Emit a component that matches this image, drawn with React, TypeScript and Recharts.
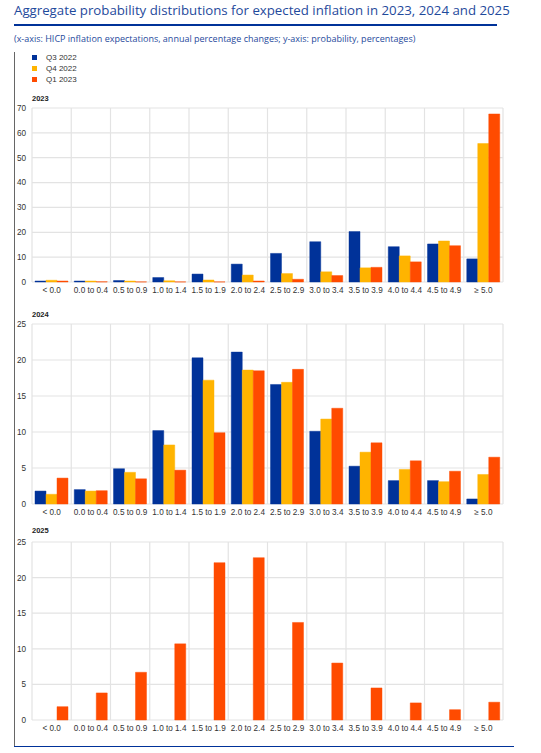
import React from 'react';
import { BarChart, Bar, XAxis, YAxis, CartesianGrid } from 'recharts';

const categories = ['< 0.0', '0.0 to 0.4', '0.5 to 0.9', '1.0 to 1.4', '1.5 to 1.9', '2.0 to 2.4', '2.5 to 2.9', '3.0 to 3.4', '3.5 to 3.9', '4.0 to 4.4', '4.5 to 4.9', '≥ 5.0'];
const seriesNames = ['Q3 2022', 'Q4 2022', 'Q1 2023'];
const seriesColors = ['#003299', '#FFB400', '#FF4B00'];

const q3_2022_for2023 = [0.4, 0.4, 0.6, 1.8, 3.2, 7.2, 11.5, 16.2, 20.3, 14.2, 15.3, 9.3];
const q4_2022_for2023 = [0.7, 0.4, 0.4, 0.5, 0.8, 2.8, 3.4, 4.1, 5.7, 10.5, 16.5, 55.7];
const q1_2023_for2023 = [0.4, 0.1, 0.05, 0.05, 0.05, 0.4, 1.1, 2.6, 5.9, 8.1, 14.6, 67.6];

const q3_2022_for2024 = [1.8, 2.0, 4.9, 10.2, 20.3, 21.1, 16.6, 10.1, 5.25, 3.25, 3.25, 0.7];
const q4_2022_for2024 = [1.35, 1.8, 4.4, 8.2, 17.2, 18.6, 16.9, 11.8, 7.2, 4.8, 3.1, 4.1];
const q1_2023_for2024 = [3.6, 1.85, 3.5, 4.7, 9.9, 18.5, 18.7, 13.3, 8.5, 6.0, 4.55, 6.5];

const q1_2023_for2025 = [1.87, 3.8, 6.7, 10.7, 22.1, 22.8, 13.7, 8.0, 4.5, 2.4, 1.45, 2.5];

const ticks2023 = [0, 10, 20, 30, 40, 50, 60, 70];
const ticks2024 = [0, 5, 10, 15, 20, 25];
const ticks2025 = [0, 5, 10, 15, 20, 25];

const build = (a?: number[], b?: number[], c?: number[]) =>
  categories.map((cat, i) => ({
    cat,
    s0: a ? a[i] : undefined,
    s1: b ? b[i] : undefined,
    s2: c ? c[i] : undefined,
  }));

const data2023 = build(q3_2022_for2023, q4_2022_for2023, q1_2023_for2023);
const data2024 = build(q3_2022_for2024, q4_2022_for2024, q1_2023_for2024);
const data2025 = build(undefined, undefined, q1_2023_for2025);

const tickStyle = { fontSize: 8.2, fill: '#333', fontFamily: 'Liberation Sans, Arial, sans-serif' };

function Panel({ data, ticks, top, height }: { data: any[]; ticks: number[]; top: number; height: number }) {
  const max = ticks[ticks.length - 1];
  return (
    <div style={{ position: 'absolute', left: 0, top, width: 541, height }}>
      <BarChart width={541} height={height} data={data} margin={{ top: 8, right: 38, bottom: 2, left: 0 }} barCategoryGap={3} barGap={0}>
        <CartesianGrid
          stroke="#e3e3e3"
          strokeWidth={1.2}
          verticalCoordinatesGenerator={({ offset }: any) =>
            Array.from({ length: categories.length + 1 }, (_, i) => offset.left + (i * offset.width) / categories.length)
          }
        />
        <XAxis dataKey="cat" interval={0} axisLine={false} tickLine={false} tickSize={4} tickMargin={1} height={16} tick={tickStyle} />
        <YAxis domain={[0, max]} ticks={ticks} axisLine={false} tickLine={false} tickSize={4} tickMargin={2} width={32} tick={tickStyle} />
        {seriesColors.map((c, i) => (
          <Bar key={i} dataKey={'s' + i} name={seriesNames[i]} fill={c} stroke={c} strokeOpacity={0.45} strokeWidth={1} isAnimationActive={false} />
        ))}
      </BarChart>
    </div>
  );
}

const labelFont = 'Liberation Sans, Arial, sans-serif';

export default function App() {
  return (
    <div style={{ position: 'absolute', left: 0, top: 0, width: 541, height: 753, background: '#fff', overflow: 'hidden' }}>
      <div style={{ position: 'absolute', left: 14, top: 1, whiteSpace: 'nowrap', fontFamily: 'Open Sans, sans-serif', fontSize: 13.25, lineHeight: '18px', color: '#1f4a9c' }}>
        Aggregate probability distributions for expected inflation in 2023, 2024 and 2025
      </div>
      <div style={{ position: 'absolute', left: 14, top: 24, width: 483, height: 2, background: '#003299' }} />
      <div style={{ position: 'absolute', left: 14, top: 33, whiteSpace: 'nowrap', fontFamily: 'Open Sans, sans-serif', fontSize: 9, lineHeight: '12px', color: '#1f4a9c' }}>
        (x-axis: HICP inflation expectations, annual percentage changes; y-axis: probability, percentages)
      </div>
      <div style={{ position: 'absolute', left: 14, top: 52, width: 1, height: 694, background: '#666' }} />
      <div style={{ position: 'absolute', left: 14, top: 745.5, width: 500, height: 1.5, background: '#003299' }} />

      {seriesNames.map((n, i) => (
        <div key={n} style={{ position: 'absolute', left: 32, top: 52.5 + i * 11, height: 10, display: 'flex', alignItems: 'center' }}>
          <div style={{ width: 5, height: 5, background: seriesColors[i] }} />
          <div style={{ marginLeft: 9, fontFamily: labelFont, fontSize: 8, color: '#333', lineHeight: '10px', whiteSpace: 'nowrap' }}>{n}</div>
        </div>
      ))}

      <Panel data={data2023} ticks={ticks2023} top={100} height={200} />
      <Panel data={data2024} ticks={ticks2024} top={316} height={206} />
      <Panel data={data2025} ticks={ticks2025} top={534} height={204} />

      {[['2023', 93.5], ['2024', 310], ['2025', 526]].map(([t, y]) => (
        <div key={t as string} style={{ position: 'absolute', left: 32, top: y as number, fontFamily: labelFont, fontWeight: 'bold', fontSize: 7.5, lineHeight: '10px', color: '#222' }}>
          {t}
        </div>
      ))}
    </div>
  );
}
